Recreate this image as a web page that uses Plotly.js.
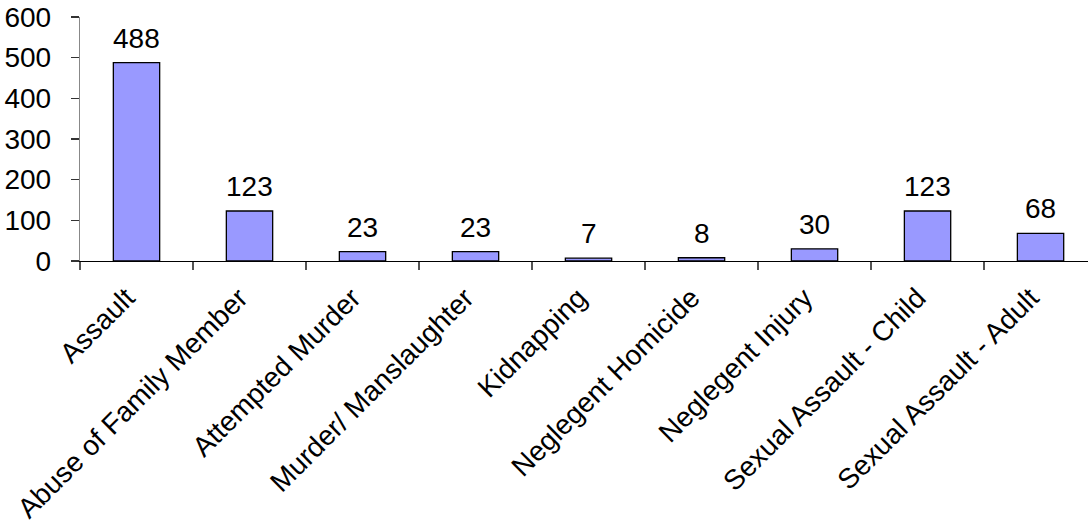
<!DOCTYPE html>
<html>
<head>
<meta charset="utf-8">
<script src="https://cdn.plot.ly/plotly-3.0.1.min.js"></script>
<style>html,body{margin:0;padding:0;background:#fff;}#chart{width:1088px;height:527px;}</style>
</head>
<body>
<div id="chart"></div>
<script>
const categories = ["Assault", "Abuse of Family Member", "Attempted Murder", "Murder/ Manslaughter", "Kidnapping", "Neglegent Homicide", "Neglegent Injury", "Sexual Assault - Child", "Sexual Assault - Adult"];
const values = [488, 123, 23, 23, 7, 8, 30, 123, 68];
const yTicks = [0, 100, 200, 300, 400, 500, 600];

const FONT = "Liberation Sans, Arial, sans-serif";
const FS = 28;

const trace = {
  type: "bar",
  x: categories,
  y: values,
  marker: {color: "#9999FF", line: {color: "#000000", width: 1.3}},
  width: 0.41,
  hoverinfo: "none"
};

const annotations = categories.map((c, i) => ({
  x: c, y: values[i], text: String(values[i]),
  xref: "x", yref: "y", showarrow: false,
  yanchor: "bottom", yshift: 7,
  font: {family: FONT, size: FS, color: "#000"}
}));

const layout = {
  width: 1088, height: 527,
  margin: {l: 80, r: 0, t: 17, b: 266, pad: 0},
  paper_bgcolor: "#fff", plot_bgcolor: "#fff",
  showlegend: false,
  font: {family: FONT, size: FS, color: "#000"},
  xaxis: {
    type: "category",
    range: [-0.5, 8.42],
    showline: true, linecolor: "#000", linewidth: 1.3,
    ticks: "outside", tickson: "boundaries", ticklen: 8, tickcolor: "#555", tickwidth: 1.3,
    tickangle: -45,
    ticklabelstandoff: 8,
    ticklabelshift: -10,
    showgrid: false, zeroline: false,
    tickfont: {family: FONT, size: FS, color: "#000"}
  },
  yaxis: {
    range: [0, 600],
    tickvals: yTicks,
    ticktext: yTicks.map(String),
    showline: true, linecolor: "#888", linewidth: 1.3,
    ticks: "outside", ticklen: 8, tickcolor: "#333", tickwidth: 1.3,
    ticklabelstandoff: 14,
    showgrid: false, zeroline: false,
    tickfont: {family: FONT, size: FS, color: "#000"}
  },
  annotations: annotations
};

Plotly.newPlot("chart", [trace], layout, {staticPlot: true, displayModeBar: false});
</script>
</body>
</html>
